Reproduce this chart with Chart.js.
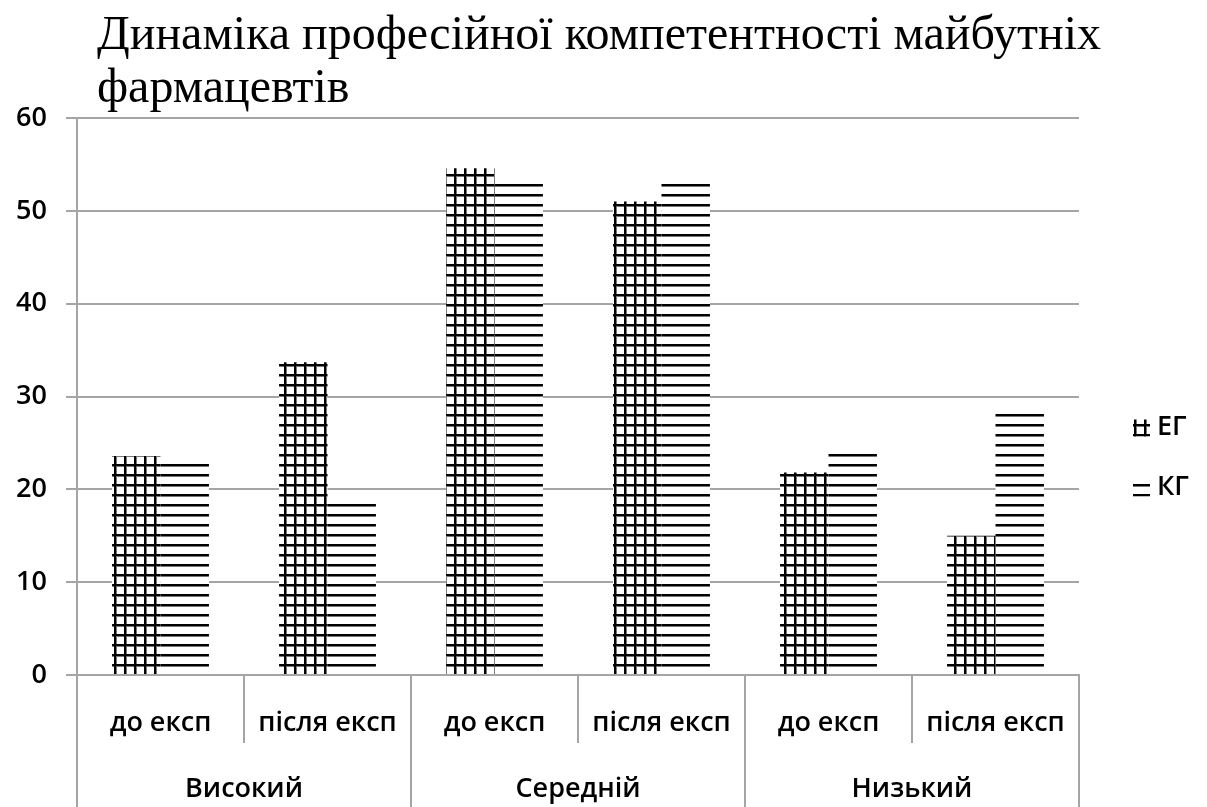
<!DOCTYPE html>
<html lang="uk">
<head>
<meta charset="utf-8">
<title>Динаміка професійної компетентності майбутніх фармацевтів</title>
<script src="https://cdn.jsdelivr.net/npm/chart.js@4.4.1/dist/chart.umd.min.js"></script>
<style>
  html, body { margin: 0; padding: 0; background: #fff; }
  #wrap { width: 1207px; height: 807px; position: relative; }
</style>
</head>
<body>
<div id="wrap"><canvas id="chart"></canvas></div>
<script>
// title, split in two lines like the original
var titleLines = ['Динаміка професійної компетентності майбутніх', 'фармацевтів'];

// lower label row (stage) and upper label row (level)
var stages = ['до експ', 'після експ', 'до експ', 'після експ', 'до експ', 'після експ'];
var levels = ['Високий', 'Середній', 'Низький'];

// values, %
var egValues = [23.6, 33.7, 54.6, 51.0, 21.8, 15.0];
var kgValues = [23.0, 18.5, 53.0, 53.0, 24.0, 28.5];

var seriesNames = ['ЕГ', 'КГ'];
var yTicks = [0, 10, 20, 30, 40, 50, 60];

var gridColor = '#a5a5a5';
var labelFont = {family: '"Open Sans", "Noto Sans", sans-serif', size: 27, weight: '600'};

// black line hatching on white, like the excel pattern fills
function makePattern(withVertical) {
    var tile = document.createElement('canvas');
    tile.width = 10;
    tile.height = 10;
    var c = tile.getContext('2d');
    c.fillStyle = '#fff';
    c.fillRect(0, 0, 10, 10);
    c.fillStyle = '#777';
    c.fillRect(0, 6, 10, 1);
    if (withVertical) {
        c.fillRect(6, 0, 1, 10);
    }
    c.fillStyle = '#000';
    c.fillRect(0, 4, 10, 2);
    if (withVertical) {
        c.fillRect(4, 0, 2, 10);
    }
    return c.createPattern(tile, 'repeat');
}

// title at top left and legend on the right, drawn straight on the canvas
var decor = {
    id: 'decor',
    afterDraw: function(chart) {
        var ctx = chart.ctx;
        var area = chart.chartArea;
        ctx.save();
        ctx.fillStyle = '#000';
        ctx.textAlign = 'left';
        ctx.textBaseline = 'alphabetic';
        ctx.font = '48px "Liberation Serif", "Times New Roman", serif';
        titleLines.forEach(function(line, i) {
            ctx.fillText(line, area.left + 20, 49 + i * 53);
        });

        ctx.font = labelFont.weight + ' ' + labelFont.size + 'px ' + labelFont.family;
        ctx.textBaseline = 'middle';
        chart.data.datasets.forEach(function(ds, i) {
            var cy = chart.height / 2 + 24 + i * 60;
            ctx.fillStyle = ds.backgroundColor;
            ctx.fillRect(area.right + 54, cy - 8, 17, 17);
            ctx.fillStyle = '#000';
            ctx.fillText(ds.label, area.right + 78, cy);
        });
        ctx.restore();
    }
};

var ctx = document.getElementById('chart').getContext('2d');
var chart = new Chart(ctx, {
    type: 'bar',
    data: {
        labels: stages,
        datasets: [
            {label: seriesNames[0], data: egValues, backgroundColor: makePattern(true), borderWidth: 0},
            {label: seriesNames[1], data: kgValues, backgroundColor: makePattern(false), borderWidth: 0}
        ]
    },
    options: {
        responsive: true,
        maintainAspectRatio: false,
        animation: false,
        devicePixelRatio: 1,
        layout: {padding: {top: 118, right: 128, left: 0, bottom: 0}},
        datasets: {bar: {categoryPercentage: 0.58, barPercentage: 1.0}},
        plugins: {
            legend: {display: false},
            title: {display: false},
            tooltip: {enabled: false}
        },
        scales: {
            y: {
                min: yTicks[0],
                max: yTicks[yTicks.length - 1],
                ticks: {stepSize: 10, padding: 19, color: '#000', font: labelFont},
                grid: {color: gridColor, lineWidth: 2, tickLength: 11},
                border: {color: gridColor, width: 2},
                afterFit: function(s) { s.width = 77; }
            },
            x: {
                position: 'bottom',
                weight: 0,
                grid: {offset: true, drawOnChartArea: false, tickLength: 68, color: gridColor, lineWidth: 2},
                border: {color: gridColor, width: 2},
                ticks: {padding: -36, color: '#000', font: labelFont, maxRotation: 0, autoSkip: false},
                afterFit: function(s) { s.height = 68; }
            },
            x2: {
                type: 'category',
                labels: levels,
                position: 'bottom',
                weight: 1,
                offset: true,
                grid: {offset: true, drawOnChartArea: false, tickLength: 64, color: gridColor, lineWidth: 2},
                border: {display: false},
                ticks: {padding: -34, color: '#000', font: labelFont, maxRotation: 0, autoSkip: false},
                afterFit: function(s) { s.height = 64; }
            }
        }
    },
    plugins: [decor]
});
</script>
</body>
</html>
